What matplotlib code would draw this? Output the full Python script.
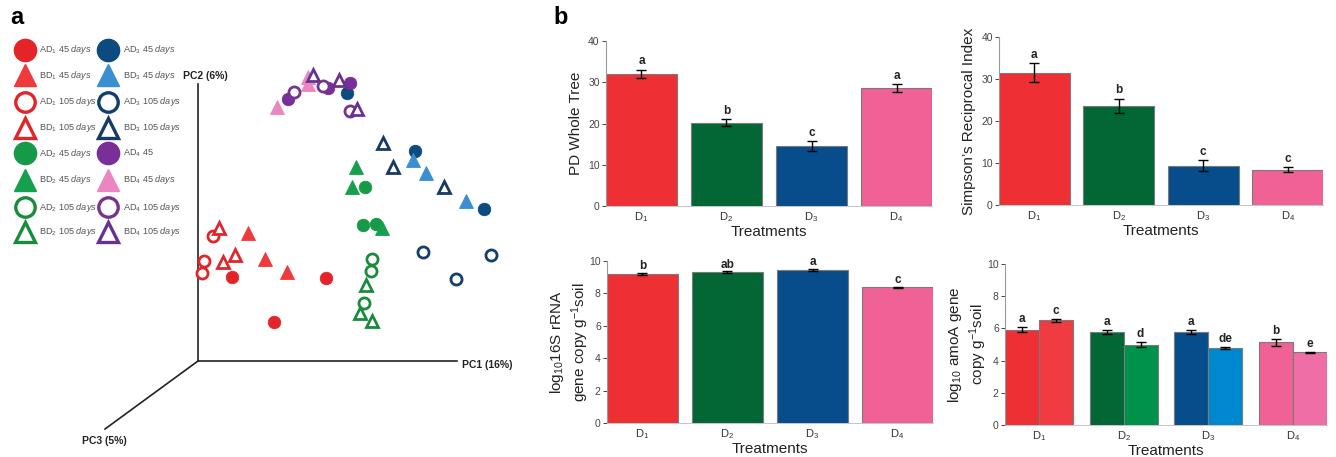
import numpy as np
import matplotlib
matplotlib.use("Agg")
import matplotlib.pyplot as plt

plt.rcParams['font.family'] = ['Liberation Sans', 'DejaVu Sans']
plt.rcParams['mathtext.fontset'] = 'custom'
plt.rcParams['mathtext.rm'] = 'Liberation Sans'
plt.rcParams['mathtext.it'] = 'Liberation Sans:italic'
plt.rcParams['mathtext.bf'] = 'Liberation Sans:bold'

# ---------------- panel a: PCoA scores (screen projection) ----------------
# group -> (x, y) of samples
pca_groups = {
    'AD1_45':  ([232, 326, 274], [277, 278, 322]),
    'BD1_45':  ([248, 265, 287], [233, 259, 272]),
    'AD1_105': ([213, 204, 202], [236, 261, 273]),
    'BD1_105': ([219, 235, 223], [228, 255, 262]),
    'AD2_45':  ([365, 363, 376], [187, 225, 224]),
    'BD2_45':  ([356, 352, 382], [167, 187, 228]),
    'AD2_105': ([372, 371, 364], [259, 271, 303]),
    'BD2_105': ([366, 360, 372], [285, 313, 321]),
    'AD3_45':  ([415, 484, 347], [151, 209, 93]),
    'BD3_45':  ([413, 426, 466], [160, 173, 201]),
    'AD3_105': ([423, 491, 456], [252, 255, 279]),
    'BD3_105': ([383, 393, 444], [143, 167, 187]),
    'AD4_45':  ([288, 328, 350], [99, 88, 83]),
    'BD4_45':  ([308, 308, 277], [77, 84, 107]),
    'AD4_105': ([294, 323, 350], [92, 86, 111]),
    'BD4_105': ([313, 339, 357], [75, 80, 109]),
}

legend_labels = {
    'AD1_45': r'AD$_1$ $\mathit{45\ days}$', 'BD1_45': r'BD$_1$ $\mathit{45\ days}$',
    'AD1_105': r'AD$_1$ $\mathit{105\ days}$', 'BD1_105': r'BD$_1$ $\mathit{105\ days}$',
    'AD2_45': r'AD$_2$ $\mathit{45\ days}$', 'BD2_45': r'BD$_2$ $\mathit{45\ days}$',
    'AD2_105': r'AD$_2$ $\mathit{105\ days}$', 'BD2_105': r'BD$_2$ $\mathit{105\ days}$',
    'AD3_45': r'AD$_3$ $\mathit{45\ days}$', 'BD3_45': r'BD$_3$ $\mathit{45\ days}$',
    'AD3_105': r'AD$_3$ $\mathit{105\ days}$', 'BD3_105': r'BD$_3$ $\mathit{105\ days}$',
    'AD4_45': r'AD$_4$ $\mathit{45}$', 'BD4_45': r'BD$_4$ $\mathit{45\ days}$',
    'AD4_105': r'AD$_4$ $\mathit{105\ days}$', 'BD4_105': r'BD$_4$ $\mathit{105\ days}$',
}

# marker, colour, filled
styles = {
    'AD1_45': ('o', '#e5242a', True), 'BD1_45': ('^', '#ee3a3c', True),
    'AD1_105': ('o', '#e0262b', False), 'BD1_105': ('^', '#e0262b', False),
    'AD2_45': ('o', '#169a48', True), 'BD2_45': ('^', '#15a04c', True),
    'AD2_105': ('o', '#188c3c', False), 'BD2_105': ('^', '#188c3c', False),
    'AD3_45': ('o', '#0d4a80', True), 'BD3_45': ('^', '#3b8fd0', True),
    'AD3_105': ('o', '#123f6c', False), 'BD3_105': ('^', '#173a60', False),
    'AD4_45': ('o', '#7a2f98', True), 'BD4_45': ('^', '#eb86c2', True),
    'AD4_105': ('o', '#75358f', False), 'BD4_105': ('^', '#6a3290', False),
}

legend_col1 = ['AD1_45', 'BD1_45', 'AD1_105', 'BD1_105', 'AD2_45', 'BD2_45', 'AD2_105', 'BD2_105']
legend_col2 = ['AD3_45', 'BD3_45', 'AD3_105', 'BD3_105', 'AD4_45', 'BD4_45', 'AD4_105', 'BD4_105']
legend_rows = [50, 75, 102, 128, 153, 180, 207, 232]

# ---------------- panel b: bar data ----------------
treatments = [r'D$_1$', r'D$_2$', r'D$_3$', r'D$_4$']
pd_mean = [32.0, 20.2, 14.5, 28.6]
pd_err = [1.0, 0.8, 1.2, 0.9]
pd_letters = ['a', 'b', 'c', 'a']

simp_mean = [31.5, 23.6, 9.4, 8.4]
simp_err = [2.3, 1.7, 1.3, 0.6]
simp_letters = ['a', 'b', 'c', 'c']

rrna_mean = [9.18, 9.30, 9.43, 8.37]
rrna_err = [0.07, 0.06, 0.06, 0.03]
rrna_letters = ['b', 'ab', 'a', 'c']

amoa_45 = [5.93, 5.77, 5.77, 5.13]
amoa_45_err = [0.14, 0.12, 0.12, 0.2]
amoa_45_letters = ['a', 'a', 'a', 'b']
amoa_105 = [6.50, 4.99, 4.78, 4.51]
amoa_105_err = [0.09, 0.16, 0.08, 0.05]
amoa_105_letters = ['c', 'd', 'de', 'e']

bar_colors = ['#ee3035', '#026635', '#074d8b', '#f06196']
bar_colors2 = ['#ef3b41', '#00914a', '#0088cf', '#f06ea6']

W, H = 1336, 457
fig = plt.figure(figsize=(W / 100, H / 100), dpi=100)

# pixel-space overlay for panel a
ax0 = fig.add_axes([0, 0, 1, 1])
ax0.set_xlim(0, W)
ax0.set_ylim(H, 0)
ax0.axis('off')

# pseudo 3D axes
ox, oy = 198, 361
ax0.plot([ox, ox], [oy, 84], color='#222222', lw=1.2)
ax0.plot([ox, 457], [oy, oy], color='#222222', lw=1.2)
ax0.plot([ox, 105], [oy, 429], color='#222222', lw=1.2)
ax0.text(183, 76, 'PC2 (6%)', fontsize=7.5, fontweight='bold', color='#222222', va='center')
ax0.text(462, 365, 'PC1 (16%)', fontsize=7.5, fontweight='bold', color='#222222', va='center')
ax0.text(82, 441, 'PC3 (5%)', fontsize=7.5, fontweight='bold', color='#222222', va='center')

for key, (xs, ys) in pca_groups.items():
    m, c, filled = styles[key]
    if filled:
        ax0.plot(xs, ys, m, ms=9 if m == 'o' else 9.5, mfc=c, mec=c, mew=0.6, ls='none')
    else:
        ax0.plot(xs, ys, m, ms=8 if m == 'o' else 9, mfc='white', mec=c, mew=2.0, ls='none')

# legend
for col, mx, tx in [(legend_col1, 25, 39), (legend_col2, 108, 123)]:
    for key, ry in zip(col, legend_rows):
        m, c, filled = styles[key]
        if filled:
            ax0.plot(mx, ry, m, ms=16, mfc=c, mec=c, ls='none')
        else:
            ax0.plot(mx, ry, m, ms=14, mfc='white', mec=c, mew=2.4, ls='none')
        ax0.text(tx, ry, legend_labels[key], fontsize=6.6, color='#555555', va='center')

fig.text(10 / W, 1 - 18 / H, 'a', fontsize=17, fontweight='bold', va='center')
fig.text(553 / W, 1 - 18 / H, 'b', fontsize=17, fontweight='bold', va='center')


def make_ax(left, right, top, bottom):
    return fig.add_axes([left / W, 1 - bottom / H, (right - left) / W, (bottom - top) / H])


def style_ax(ax, ymax, step, ylabel, ypad):
    ax.set_ylim(0, ymax)
    ax.set_yticks(np.arange(0, ymax + 0.1, step))
    for s in ['top', 'right']:
        ax.spines[s].set_visible(False)
    ax.spines['left'].set_color('#999999')
    ax.spines['bottom'].set_color('#bbbbbb')
    ax.spines['left'].set_linewidth(0.8)
    ax.spines['bottom'].set_linewidth(0.6)
    ax.tick_params(axis='y', labelsize=7.5, colors='#444444', length=3, width=0.7, pad=1.5)
    ax.tick_params(axis='x', labelsize=8, colors='#333333', length=0, pad=3)
    ax.set_ylabel(ylabel, fontsize=11, color='#222222', labelpad=ypad)
    ax.set_xlabel('Treatments', fontsize=11, color='#222222', labelpad=1)


def add_letters(ax, xs, means, errs, letters, off):
    for xi, m, e, l in zip(xs, means, errs, letters):
        ax.text(xi, m + e + off, l, ha='center', va='bottom', fontsize=8.5, fontweight='bold',
                color='#222222')


def simple_bars(ax, means, errs, letters, ymax, step, ylabel, off, ypad):
    w = 0.835
    x = np.arange(len(means))
    ax.bar(x, means, width=w, color=bar_colors, edgecolor='#7a7a7a', linewidth=0.8, zorder=2)
    ax.errorbar(x, means, yerr=errs, fmt='none', ecolor='black', elinewidth=1.0, capsize=3.5,
                capthick=1.0, zorder=3)
    add_letters(ax, x, means, errs, letters, off)
    ax.set_xlim(-w / 2, len(means) - 1 + w / 2)
    ax.set_xticks(x)
    ax.set_xticklabels(treatments)
    style_ax(ax, ymax, step, ylabel, ypad)


ax1 = make_ax(606, 932, 41, 206)
simple_bars(ax1, pd_mean, pd_err, pd_letters, 40, 10, 'PD Whole Tree', 0.6, 4)

ax2 = make_ax(999, 1323, 37, 205)
simple_bars(ax2, simp_mean, simp_err, simp_letters, 40, 10, 'Simpson\u2019s Reciprocal Index', 0.6, 4)

ax3 = make_ax(607, 933, 261, 423)
simple_bars(ax3, rrna_mean, rrna_err, rrna_letters, 10, 2,
            'log$_{10}$16S rRNA\ngene copy g$^{-1}$soil', 0.05, -1)

ax4 = make_ax(1005, 1327, 264, 425)
wg = 0.8
bw = wg / 2
x = np.arange(4)
ax4.bar(x - bw / 2, amoa_45, width=bw, color=bar_colors, edgecolor='#7a7a7a', linewidth=0.8, zorder=2)
ax4.bar(x + bw / 2, amoa_105, width=bw, color=bar_colors2, edgecolor='#7a7a7a', linewidth=0.8, zorder=2)
ax4.errorbar(x - bw / 2, amoa_45, yerr=amoa_45_err, fmt='none', ecolor='black', elinewidth=1.0,
             capsize=3.5, capthick=1.0, zorder=3)
ax4.errorbar(x + bw / 2, amoa_105, yerr=amoa_105_err, fmt='none', ecolor='black', elinewidth=1.0,
             capsize=3.5, capthick=1.0, zorder=3)
add_letters(ax4, x - bw / 2, amoa_45, amoa_45_err, amoa_45_letters, 0.12)
add_letters(ax4, x + bw / 2, amoa_105, amoa_105_err, amoa_105_letters, 0.12)
ax4.set_xlim(-wg / 2, 3 + wg / 2)
ax4.set_xticks(x)
ax4.set_xticklabels(treatments)
style_ax(ax4, 10, 2, 'log$_{10}$ amoA gene\ncopy g$^{-1}$soil', -1)

fig.savefig('out.png', dpi=100)
